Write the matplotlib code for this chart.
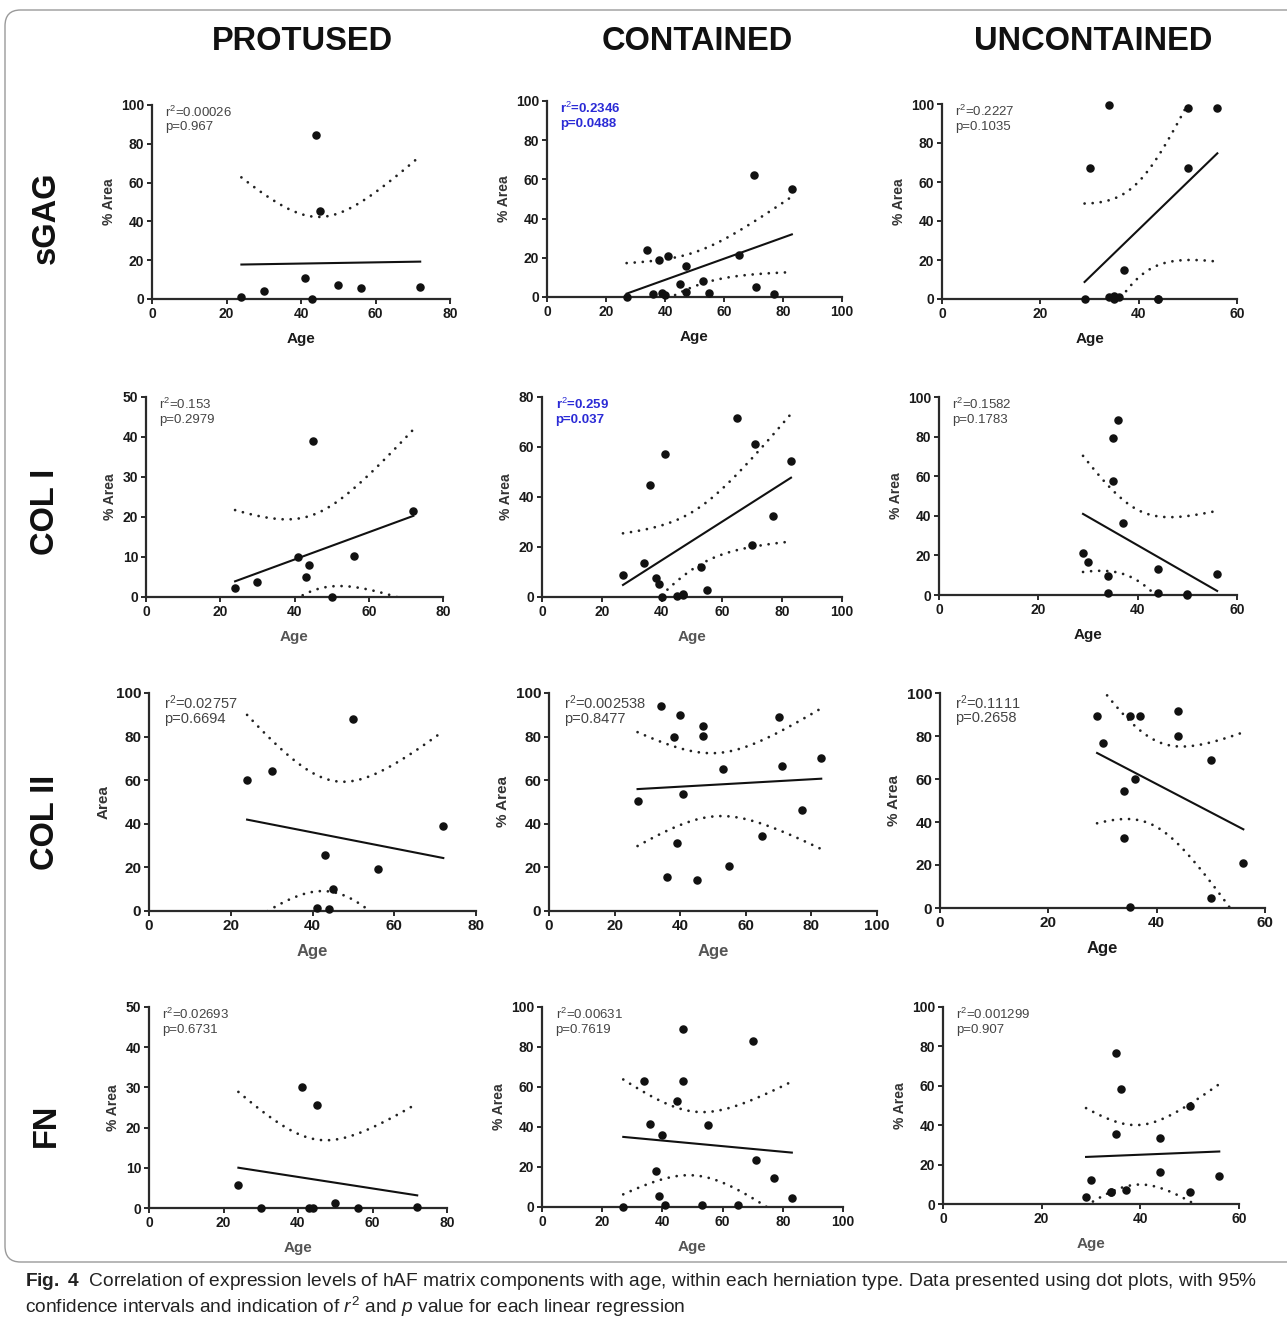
import numpy as np
import matplotlib
matplotlib.use("Agg")
import matplotlib.pyplot as plt
from matplotlib.patches import FancyBboxPatch

plt.rcParams["font.family"] = ["Liberation Sans", "DejaVu Sans"]
plt.rcParams["mathtext.fontset"] = "custom"
plt.rcParams["mathtext.rm"] = "Liberation Sans"
plt.rcParams["mathtext.it"] = "Liberation Sans:italic"
plt.rcParams["mathtext.bf"] = "Liberation Sans:bold"

# ---- data ----
columns = ["PROTUSED", "CONTAINED", "UNCONTAINED"]
rows = ["sGAG", "COL I", "COL II", "FN"]

prot_age = [24, 30, 41, 43, 44, 45, 50, 56, 72]
prot_sgag = [1.2, 4.3, 11.0, 0.0, 84.5, 45.5, 7.4, 5.7, 6.2]
prot_col1 = [2.3, 3.7, 9.9, 5.1, 7.9, 39.0, 0.0, 10.3, 21.5]
prot_col2 = [60.0, 64.0, 1.5, 25.5, 0.7, 10.0, 88.0, 19.2, 39.0]
prot_fn = [5.6, 0.0, 30.2, 0.0, 0.0, 25.7, 1.3, 0.0, 0.3]

cont_age = [27, 34, 36, 38, 39, 40, 41, 45, 47, 47, 53, 55, 65, 70, 71, 77, 83]
cont_sgag = [0.0, 23.9, 1.7, 19.1, 2.0, 1.2, 21.0, 6.8, 15.7, 2.7, 8.0, 2.2, 21.6, 62.2, 5.1, 1.7, 55.0]
cont_col1 = [8.9, 13.7, 44.9, 7.6, 5.3, 0.0, 57.3, 0.4, 0.9, 1.3, 12.0, 2.7, 71.6, 20.7, 61.3, 32.4, 54.3]
cont_col2 = [50.6, 93.9, 15.6, 79.8, 31.0, 89.7, 53.7, 14.4, 84.7, 80.5, 65.0, 20.6, 34.4, 89.0, 66.3, 46.3, 70.0]
cont_fn = [0.0, 62.8, 41.7, 18.0, 5.5, 36.2, 0.8, 53.0, 89.2, 62.8, 1.2, 41.2, 0.8, 82.8, 23.3, 14.5, 4.7]

unc_age = [29, 30, 34, 34, 35, 35, 36, 37, 44, 44, 50, 50, 56]
unc_sgag = [0.0, 67.4, 99.5, 1.2, 1.5, 0.0, 1.2, 14.9, 0.0, 0.0, 97.8, 67.0, 97.8]
unc_col1 = [21.3, 16.8, 9.7, 0.8, 79.3, 57.6, 88.2, 36.5, 13.1, 0.8, 0.0, 0.3, 10.6]
unc_col2 = [89.1, 76.7, 54.3, 32.6, 89.5, 0.3, 60.0, 89.1, 91.5, 79.8, 68.7, 4.7, 20.9]
unc_fn = [3.4, 12.0, 6.3, 6.0, 76.4, 35.4, 58.2, 7.3, 33.7, 16.2, 5.9, 49.5, 14.3]

r2_labels = [["0.00026", "0.2346", "0.2227"],
             ["0.153", "0.259", "0.1582"],
             ["0.02757", "0.002538", "0.1111"],
             ["0.02693", "0.00631", "0.001299"]]
p_labels = [["0.967", "0.0488", "0.1035"],
            ["0.2979", "0.037", "0.1783"],
            ["0.6694", "0.8477", "0.2658"],
            ["0.6731", "0.7619", "0.907"]]
significant = [(0, 1), (1, 1)]

x_max = [80, 100, 60]
y_max = [[100, 100, 100], [50, 80, 100], [100, 100, 100], [50, 100, 100]]

# two-sided 95% t critical values by degrees of freedom
t_crit = {7: 2.365, 11: 2.201, 15: 2.131}

ages = [prot_age, cont_age, unc_age]
values = [[prot_sgag, cont_sgag, unc_sgag],
          [prot_col1, cont_col1, unc_col1],
          [prot_col2, cont_col2, unc_col2],
          [prot_fn, cont_fn, unc_fn]]


def fit_band(x, y):
    x = np.asarray(x, float)
    y = np.asarray(y, float)
    n = len(x)
    slope, icpt = np.polyfit(x, y, 1)
    xs = np.linspace(x.min(), x.max(), 200)
    yhat = icpt + slope * xs
    resid = y - (icpt + slope * x)
    s = np.sqrt((resid ** 2).sum() / (n - 2))
    sxx = ((x - x.mean()) ** 2).sum()
    half = t_crit[n - 2] * s * np.sqrt(1 / n + (xs - x.mean()) ** 2 / sxx)
    return xs, yhat, yhat - half, yhat + half


W, H = 1287, 1330
fig = plt.figure(figsize=(W / 100, H / 100), dpi=100)

# axes boxes in pixels: x0, x1, ytop, ybottom
boxes = [[(152, 450, 105, 299), (547, 842, 101, 297), (942, 1237, 104, 299)],
         [(146, 443, 397, 597), (542, 842, 397, 597), (939, 1237, 397, 595)],
         [(149, 476, 693, 911), (549, 877, 693, 911), (940, 1265, 693, 908)],
         [(149, 447, 1007, 1208), (542, 843, 1007, 1207), (943, 1239, 1007, 1204)]]

tick_fs = [10, 10, 11, 10]
age_fs = [11, 11, 12, 11]
ann_fs = [9.5, 9.5, 10.5, 9.5]
dark_age = [[True, True, True], [False, False, True], [False, False, True], [False, False, False]]

axis_col = "#2a2a2a"

for r in range(4):
    for c in range(3):
        x0, x1, yt, yb = boxes[r][c]
        ax = fig.add_axes([x0 / W, 1 - yb / H, (x1 - x0) / W, (yb - yt) / H])
        x = ages[c]
        y = values[r][c]
        xs, yhat, lo, hi = fit_band(x, y)
        ax.plot(xs, yhat, color="#111111", lw=1.5)
        for band in (lo, hi):
            ax.plot(xs, band, color="#222222", lw=2.0, linestyle=(0, (0.01, 2.9)),
                    dash_capstyle="round")
        ax.scatter(x, y, s=26, color="#111111", zorder=3, clip_on=False)

        ax.set_xlim(0, x_max[c])
        ax.set_ylim(0, y_max[r][c])
        ax.set_xticks(np.arange(0, x_max[c] + 1, 20))
        ystep = 10 if y_max[r][c] == 50 else 20
        ax.set_yticks(np.arange(0, y_max[r][c] + 1, ystep))
        for side in ("top", "right"):
            ax.spines[side].set_visible(False)
        for side in ("left", "bottom"):
            ax.spines[side].set_linewidth(1.6)
            ax.spines[side].set_color(axis_col)
        ax.tick_params(direction="out", length=3.5, width=1.4, color=axis_col,
                       labelsize=tick_fs[r], labelcolor="#1a1a1a", pad=2)
        for lab in ax.get_xticklabels() + ax.get_yticklabels():
            lab.set_fontweight("bold")

        acol = "#1a1a1a" if dark_age[r][c] else "#555555"
        ax.set_xlabel("Age", fontsize=age_fs[r], fontweight="bold", color=acol, labelpad=8)
        ylab = "Area" if (r, c) == (2, 0) else "% Area"
        ax.set_ylabel(ylab, fontsize=tick_fs[r], fontweight="bold", color="#333333", labelpad=4)

        if (r, c) in significant:
            tcol, tw = "#2b2bd6", "bold"
        else:
            tcol, tw = "#444444", "normal"
        ax.text(0.045, 1.0, "r$^2$=" + r2_labels[r][c], transform=ax.transAxes,
                fontsize=ann_fs[r], color=tcol, fontweight=tw, va="top", ha="left")
        ax.text(0.045, 0.915, "p=" + p_labels[r][c], transform=ax.transAxes,
                fontsize=ann_fs[r], color=tcol, fontweight=tw, va="top", ha="left")

for c, name in enumerate(columns):
    cx = [302, 697, 1093][c]
    fig.text(cx / W, 1 - 42 / H, name, ha="center", va="center", fontsize=23.5,
             fontweight="bold", color="#111111")
for r, name in enumerate(rows):
    cy = [218, 512, 822, 1125][r]
    fig.text(46 / W, 1 - cy / H, name, ha="center", va="center", rotation=90,
             fontsize=23.5, fontweight="bold", color="#111111")

frame = FancyBboxPatch((5 / W, 1 - 1262 / H), (1320 - 5) / W, (1262 - 10) / H,
                       boxstyle="round,pad=0,rounding_size=0.012",
                       transform=fig.transFigure, fill=False, edgecolor="#9a9a9a", lw=1.0)
fig.patches.append(frame)

fig.text(25 / W, 1 - 1281 / H,
         r"$\mathbf{Fig.\ 4}$  Correlation of expression levels of hAF matrix components with age, "
         "within each herniation type. Data presented using dot plots, with 95%",
         fontsize=13.8, ha="left", va="center", color="#222222")
fig.text(25 / W, 1 - 1307 / H,
         r"confidence intervals and indication of $r^2$ and $p$ value for each linear regression",
         fontsize=13.8, ha="left", va="center", color="#222222")

fig.savefig("out.png", dpi=100, facecolor="white")
